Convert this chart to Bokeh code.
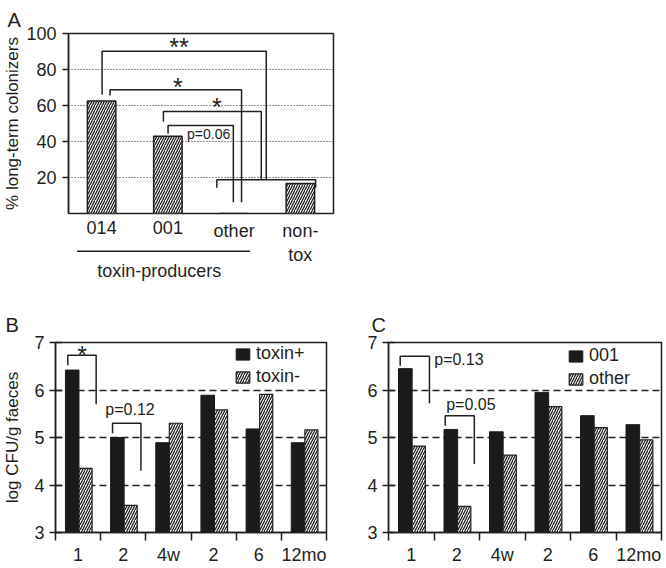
from bokeh.plotting import figure
from bokeh.models import Range1d, FixedTicker, Legend, LegendItem, ColumnDataSource
from bokeh.layouts import column, row
from bokeh.embed import file_html
from bokeh.resources import INLINE
from bokeh.core.properties import value

FONT = "Liberation Sans"
INK = "#231f20"
BAR = "#1a1a1a"

# ---------------- data ----------------
# Panel A
a_categories = ["014", "001", "other", "non-\ntox"]
a_values = [62.5, 42.9, 0.0, 16.7]
a_yticks = [20, 40, 60, 80, 100]
a_ylabel = "% long-term colonizers"
a_group_label = "toxin-producers"
# significance brackets: left x, right x, left end y, top y, right end y
a_br_xl = [0.007, 0.127, 0.933, 1.003, 1.739]
a_br_xr = [2.485, 2.112, 2.41, 1.988, 3.23]
a_br_yl = [66.0, 65.5, 51.0, 44.3, 14.3]
a_br_yt = [90.2, 68.7, 56.7, 48.9, 18.7]
a_br_yr = [18.7, 6.3, 18.7, 6.3, 14.3]
a_star_text = ["**", "*", "*"]
a_star_x = [1.167, 1.15, 1.74]
a_star_y = [92.3, 70.4, 58.9]
a_p_text = ["p=0.06"]
a_p_x = [1.29]
a_p_y = [43.9]

# Panels B and C
time_labels = ["1", "2", "4w", "2", "6", "12mo"]
bc_yticks = [3, 4, 5, 6, 7]
bc_grid = [4, 5, 6]
b_names = ["toxin+", "toxin-"]
b_plus = [6.42, 5.0, 4.89, 5.89, 5.18, 4.89]
b_minus = [4.35, 3.57, 5.30, 5.58, 5.91, 5.16]
b_ylabel = "log CFU/g faeces"
b_br_xl = [-0.227, 0.763]
b_br_xr = [0.40, 1.392]
b_br_yl = [6.52, 5.09]
b_br_yt = [6.73, 5.30]
b_br_yr = [5.70, 4.30]
b_txt = ["*", "p=0.12"]
b_txt_x = [0.087, 1.15]
b_txt_y = [6.73, 5.58]

c_names = ["001", "other"]
c_001 = [6.45, 5.17, 5.12, 5.95, 5.46, 5.27]
c_other = [4.82, 3.55, 4.63, 5.65, 5.21, 4.95]
c_br_xl = [-0.243, 0.747]
c_br_xr = [0.40, 1.386]
c_br_yl = [6.51, 5.25]
c_br_yt = [6.71, 5.46]
c_br_yr = [5.72, 4.44]
c_txt = ["p=0.13", "p=0.05"]
c_txt_x = [0.505, 1.31]
c_txt_y = [6.64, 5.69]

HATCH = dict(hatch_pattern="/", hatch_color=INK, hatch_scale=5, hatch_weight=1.3)
STAR_SIZE = "25px"


def bracket_lines(xl, xr, yl, yt, yr):
    xs = [[a, a, b, b] for a, b in zip(xl, xr)]
    ys = [[p, q, q, r] for p, q, r in zip(yl, yt, yr)]
    return xs, ys


def style_title(p, text, offset, standoff):
    p.title.text = text
    p.title.text_font = FONT
    p.title.text_font_size = "20px"
    p.title.text_font_style = "normal"
    p.title.text_color = INK
    p.title.align = "left"
    p.title.offset = offset
    p.title.standoff = standoff


# ---------------- Panel A ----------------
pA = figure(width=345, height=215, x_range=Range1d(-0.5, 3.5), y_range=Range1d(0, 100),
            output_backend="svg", toolbar_location=None, x_axis_location=None,
            min_border_left=65, min_border_right=12, min_border_top=33, min_border_bottom=2)
style_title(pA, "A", -61, 6)
pA.outline_line_color = INK
pA.outline_line_width = 1.5
pA.xgrid.visible = False
pA.ygrid.ticker = FixedTicker(ticks=[20, 40, 60, 80])
pA.ygrid.grid_line_color = INK
pA.ygrid.grid_line_dash = "1 2"
pA.ygrid.grid_line_width = 1
ax = pA.yaxis[0]
ax.ticker = FixedTicker(ticks=a_yticks)
ax.major_tick_in = 0
ax.major_tick_out = 6
ax.minor_tick_line_color = None
ax.major_tick_line_color = INK
ax.major_tick_line_width = 1.5
ax.axis_line_color = INK
ax.axis_line_width = 1.5
ax.major_label_text_font = FONT
ax.major_label_text_font_size = "18px"
ax.major_label_text_color = INK
ax.major_label_standoff = 6
ax.axis_label = a_ylabel
ax.axis_label_text_font = FONT
ax.axis_label_text_font_size = "17px"
ax.axis_label_text_font_style = "normal"
ax.axis_label_text_color = INK
ax.axis_label_standoff = 1

a_x = list(range(len(a_categories)))
pA.vbar(x=a_x, top=a_values, bottom=0, width=0.43, fill_color="white",
        line_color=INK, line_width=1.5, **HATCH)
xs, ys = bracket_lines(a_br_xl, a_br_xr, a_br_yl, a_br_yt, a_br_yr)
pA.multi_line(xs=xs, ys=ys, line_color=INK, line_width=1.5)
pA.text(x=a_star_x, y=a_star_y, text=a_star_text, text_font=value(FONT),
        text_font_size=STAR_SIZE, text_align="center", text_baseline="alphabetic",
        text_color=INK)
pA.text(x=a_p_x, y=a_p_y, text=a_p_text, text_font=value(FONT),
        text_font_size="14px", text_align="left", text_baseline="middle",
        text_color=INK)

# category labels + group line below panel A
pA2 = figure(width=345, height=75, x_range=pA.x_range, y_range=Range1d(75, 0),
             output_backend="svg", toolbar_location=None,
             x_axis_location=None, y_axis_location=None,
             min_border_left=65, min_border_right=12, min_border_top=0, min_border_bottom=0)
pA2.outline_line_color = None
pA2.grid.visible = False
pA2.text(x=a_x, y=[5] * len(a_x), text=a_categories, text_font=value(FONT),
         text_font_size="18px", text_align="center", text_baseline="top",
         text_color=INK)
pA2.line(x=[a_x[0] - 0.37, a_x[2] + 0.24], y=[35.7, 35.7], line_color=INK, line_width=1.5)
pA2.text(x=[0.87], y=[55.7], text=[a_group_label], text_font=value(FONT),
         text_font_size="18px", text_align="center", text_baseline="alphabetic",
         text_color=INK)


# ---------------- Panels B, C ----------------
def bar_panel(width, bl, br, first, second, names, ylabel, bxl, bxr, byl, byt, byr,
              txt, tx, ty, txt_align, title, toff, leg_xy, ylab_standoff):
    p = figure(width=width, height=278, x_range=Range1d(-0.5, 5.5), y_range=Range1d(3, 7),
               output_backend="svg", toolbar_location=None,
               min_border_left=bl, min_border_right=br, min_border_top=52, min_border_bottom=36)
    style_title(p, title, toff, 13)
    p.outline_line_color = INK
    p.outline_line_width = 1.5
    p.xgrid.visible = False
    p.ygrid.ticker = FixedTicker(ticks=bc_grid)
    p.ygrid.grid_line_color = INK
    p.ygrid.grid_line_dash = "7 4"
    p.ygrid.grid_line_width = 1.5

    x = list(range(len(time_labels)))
    src = ColumnDataSource(dict(xa=[i - 0.13 for i in x], xb=[i + 0.165 for i in x],
                                a=first, b=second))
    r1 = p.vbar(x="xa", top="a", bottom=3, width=0.3, source=src,
                fill_color=BAR, line_color=BAR, line_width=1)
    r2 = p.vbar(x="xb", top="b", bottom=3, width=0.29, source=src,
                fill_color="white", line_color=INK, line_width=1.2, **HATCH)

    xs, ys = bracket_lines(bxl, bxr, byl, byt, byr)
    p.multi_line(xs=xs, ys=ys, line_color=INK, line_width=1.5)
    for t, xx, yy, al in zip(txt, tx, ty, txt_align):
        is_star = t.startswith("*")
        p.text(x=[xx], y=[yy], text=[t], text_font=value(FONT),
               text_font_size=STAR_SIZE if is_star else "16px", text_align=al,
               text_baseline="alphabetic" if is_star else "middle", text_color=INK)

    xa = p.xaxis[0]
    xa.ticker = FixedTicker(ticks=x, minor_ticks=[i - 0.5 for i in x] + [x[-1] + 0.5])
    xa.major_label_overrides = {i: lab for i, lab in zip(x, time_labels)}
    xa.major_tick_in = 0
    xa.major_tick_out = 0
    xa.major_tick_line_color = None
    xa.minor_tick_in = 0
    xa.minor_tick_out = 8
    xa.minor_tick_line_color = INK
    xa.minor_tick_line_width = 1.5
    xa.axis_line_color = INK
    xa.axis_line_width = 1.5
    xa.major_label_text_font = FONT
    xa.major_label_text_font_size = "18px"
    xa.major_label_text_color = INK
    xa.major_label_standoff = 4

    ya = p.yaxis[0]
    ya.ticker = FixedTicker(ticks=bc_yticks)
    ya.major_tick_in = 6
    ya.major_tick_out = 6
    ya.major_tick_line_color = INK
    ya.major_tick_line_width = 1.5
    ya.minor_tick_line_color = None
    ya.axis_line_color = INK
    ya.axis_line_width = 1.5
    ya.major_label_text_font = FONT
    ya.major_label_text_font_size = "18px"
    ya.major_label_text_color = INK
    ya.major_label_standoff = 5
    if ylabel:
        ya.axis_label = ylabel
        ya.axis_label_text_font = FONT
        ya.axis_label_text_font_size = "17px"
        ya.axis_label_text_font_style = "normal"
        ya.axis_label_text_color = INK
        ya.axis_label_standoff = ylab_standoff

    legend = Legend(items=[LegendItem(label=names[0], renderers=[r1]),
                           LegendItem(label=names[1], renderers=[r2])],
                    location=leg_xy, padding=0, margin=0, spacing=2,
                    glyph_width=17, glyph_height=14, label_standoff=5,
                    border_line_color=None, background_fill_alpha=0,
                    label_text_font=FONT, label_text_font_size="18px",
                    label_text_color=INK)
    p.add_layout(legend)
    return p


pB = bar_panel(333, 53, 7, b_plus, b_minus, b_names, b_ylabel,
               b_br_xl, b_br_xr, b_br_yl, b_br_yt, b_br_yr,
               b_txt, b_txt_x, b_txt_y, ["center", "center"], "B", -50, (179, 145), 9)
pC = bar_panel(333, 55, 5, c_001, c_other, c_names, None,
               c_br_xl, c_br_xr, c_br_yl, c_br_yt, c_br_yr,
               c_txt, c_txt_x, c_txt_y, ["left", "center"], "C", -17, (179, 143), 0)

layout = column(pA, pA2, row(pB, pC))

open("out.html", "w").write(file_html(layout, INLINE))
